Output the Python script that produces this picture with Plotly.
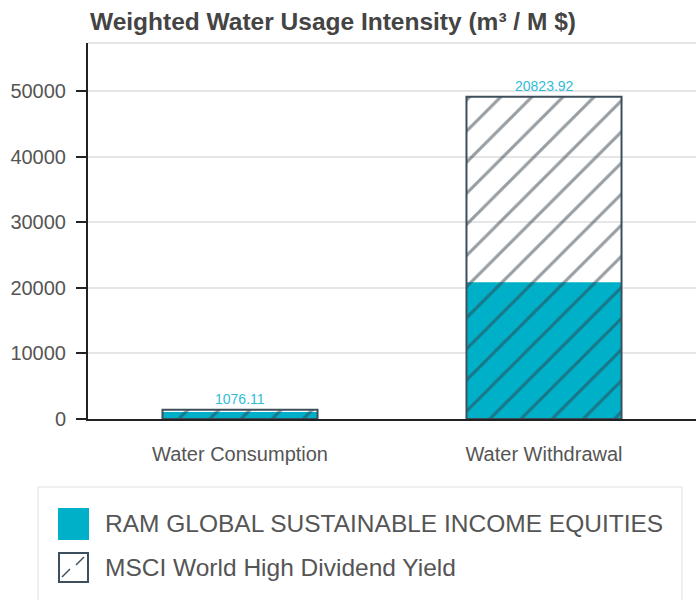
import plotly.graph_objects as go

categories = ["Water Consumption", "Water Withdrawal"]
ram_values = [1076.11, 20823.92]
msci_values = [1400.0, 49100.0]
ram_labels = ["1076.11", "20823.92"]
series_names = ["RAM GLOBAL SUSTAINABLE INCOME EQUITIES", "MSCI World High Dividend Yield"]
y_ticks = [0, 10000, 20000, 30000, 40000, 50000]
title_text = "Weighted Water Usage Intensity (m³ / M $)"

TEAL = "#00b0c8"
DARK = "#3d4f5c"
FONT = "Liberation Sans, Arial, sans-serif"

fig = go.Figure()
fig.add_trace(go.Bar(
    x=categories, y=ram_values, name=series_names[0],
    marker=dict(color=TEAL, line=dict(width=0)),
    showlegend=False, hoverinfo="skip",
))
fig.add_trace(go.Bar(
    x=categories, y=msci_values, name=series_names[1],
    marker=dict(color="rgba(255,255,255,0)",
                line=dict(color=DARK, width=2),
                pattern=dict(shape="/", fgcolor="#2f3d47", bgcolor="rgba(0,0,0,0)",
                             size=22, solidity=0.14, fillmode="overlay")),
    showlegend=False, hoverinfo="skip",
))

annotations = []
for c, r, m, lab in zip(categories, ram_values, msci_values, ram_labels):
    annotations.append(dict(x=c, y=max(r, m), xref="x", yref="y", text=lab,
                            showarrow=False, yanchor="bottom", yshift=1,
                            font=dict(family=FONT, size=14, color="#2fbcd6")))

# custom legend (paper coordinates)
L, T, PW, PH = 88, 43, 608, 376
def px(x):
    return (x - L) / PW
def py(y):
    return (T + PH - y) / PH

shapes = [
    dict(type="line", xref="paper", yref="paper", x0=0, x1=1, y0=1, y1=1,
         line=dict(color="#e6e6e6", width=2), layer="below"),
    dict(type="rect", xref="paper", yref="paper", x0=px(38), x1=px(682), y0=py(487), y1=py(603),
         line=dict(color="#ececec", width=1.5), fillcolor="rgba(0,0,0,0)"),
    dict(type="rect", xref="paper", yref="paper", x0=px(58), x1=px(89), y0=py(508), y1=py(540),
         line=dict(width=0), fillcolor=TEAL),
    dict(type="rect", xref="paper", yref="paper", x0=px(59), x1=px(88), y0=py(553), y1=py(582),
         line=dict(color=DARK, width=2), fillcolor="white"),
    dict(type="line", xref="paper", yref="paper", x0=px(62), x1=px(70), y0=py(577), y1=py(569),
         line=dict(color=DARK, width=1.5)),
    dict(type="line", xref="paper", yref="paper", x0=px(76), x1=px(84), y0=py(565), y1=py(557),
         line=dict(color=DARK, width=1.5)),
]
annotations.append(dict(xref="paper", yref="paper", x=px(103), y=py(523), text=series_names[0],
                        showarrow=False, xanchor="left", yanchor="middle",
                        font=dict(family=FONT, size=24.5, color="#555555")))
annotations.append(dict(xref="paper", yref="paper", x=px(103), y=py(567), text=series_names[1],
                        showarrow=False, xanchor="left", yanchor="middle",
                        font=dict(family=FONT, size=24.5, color="#555555")))
annotations.append(dict(xref="paper", yref="paper", x=0, y=py(22), text="<b>" + title_text + "</b>",
                        showarrow=False, xanchor="left", yanchor="middle",
                        font=dict(family=FONT, size=24.5, color="#444444")))

fig.update_layout(
    width=696, height=600,
    margin=dict(l=L, r=0, t=T, b=600 - T - PH, pad=0),
    paper_bgcolor="white", plot_bgcolor="white",
    barmode="overlay", bargap=0.49,
    showlegend=False,
    annotations=annotations, shapes=shapes,
    font=dict(family=FONT),
)
fig.update_xaxes(showline=True, linecolor="#222222", linewidth=2, ticks="",
                 ticklabelstandoff=16,
                 tickfont=dict(family=FONT, size=20, color="#555555"),
                 showgrid=False, fixedrange=True)
fig.update_yaxes(range=[0, 57300], tickvals=y_ticks, ticktext=[str(v) for v in y_ticks],
                 showline=True, linecolor="#222222", linewidth=2,
                 ticks="outside", ticklen=10, tickcolor="#222222", tickwidth=2,
                 ticklabelstandoff=6,
                 tickfont=dict(family=FONT, size=20, color="#555555"),
                 showgrid=True, gridcolor="#e6e6e6", gridwidth=1.5, zeroline=False,
                 fixedrange=True)

fig.write_html("out.html", config={"displayModeBar": False},
               post_script="document.body.style.margin='0';document.body.style.overflow='hidden';")
